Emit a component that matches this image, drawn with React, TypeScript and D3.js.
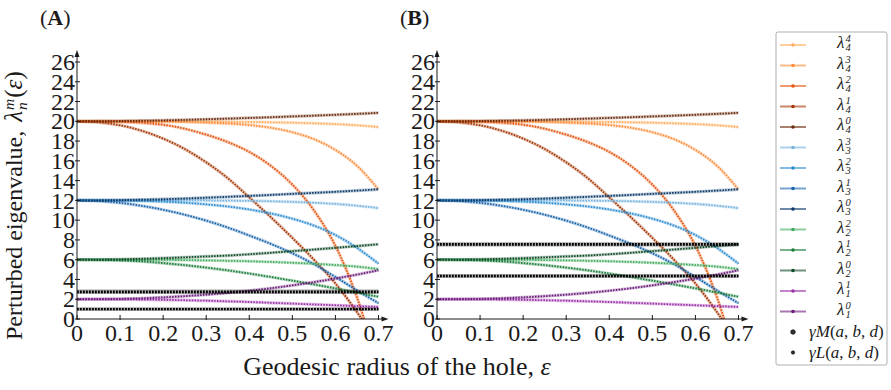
import React, { useEffect, useRef } from 'react';
import * as d3 from 'd3';

// hole radius samples
const EPS = [0, 0.05, 0.1, 0.15, 0.2, 0.25, 0.3, 0.35, 0.4, 0.45, 0.5, 0.55, 0.6, 0.65, 0.7];

// perturbed eigenvalues lambda_n^m(eps)
const LAM_4_4 = [20, 20, 20, 20, 19.99, 19.98, 19.97, 19.95, 19.93, 19.9, 19.86, 19.8, 19.72, 19.6, 19.42];
const LAM_4_3 = [20, 20, 20, 19.99, 19.97, 19.93, 19.87, 19.77, 19.62, 19.35, 18.9, 18.2, 17.1, 15.5, 13.1];
const LAM_4_2 = [20, 20, 19.95, 19.85, 19.65, 19.25, 18.65, 17.9, 16.9, 15.5, 13.6, 11.0, 7.4, 2.2, -5];
const LAM_4_1 = [20, 19.9, 19.6, 19.05, 18.25, 17.2, 15.85, 14.25, 12.3, 10.3, 8.2, 6.0, 3.6, 0.7, -2.6];
const LAM_4_0 = [20, 20.01, 20.03, 20.06, 20.1, 20.15, 20.21, 20.27, 20.34, 20.41, 20.49, 20.57, 20.66, 20.75, 20.86];
const LAM_3_3 = [12, 12, 12, 12, 12, 12, 11.99, 11.97, 11.95, 11.91, 11.85, 11.76, 11.64, 11.46, 11.22];
const LAM_3_2 = [12, 12, 11.98, 11.94, 11.87, 11.76, 11.6, 11.38, 11.08, 10.68, 10.15, 9.45, 8.5, 7.2, 5.6];
const LAM_3_1 = [12, 11.93, 11.75, 11.45, 11.05, 10.55, 9.95, 9.25, 8.45, 7.6, 6.65, 5.55, 4.25, 2.9, 1.6];
const LAM_3_0 = [12, 12.01, 12.03, 12.07, 12.12, 12.19, 12.27, 12.36, 12.45, 12.55, 12.66, 12.76, 12.87, 12.99, 13.12];
const LAM_2_2 = [6, 6, 6, 5.99, 5.98, 5.96, 5.93, 5.89, 5.84, 5.77, 5.69, 5.59, 5.46, 5.3, 5.05];
const LAM_2_1 = [6, 5.98, 5.92, 5.82, 5.66, 5.45, 5.2, 4.92, 4.6, 4.25, 3.88, 3.5, 3.1, 2.68, 2.25];
const LAM_2_0 = [6, 6.01, 6.04, 6.09, 6.16, 6.24, 6.33, 6.42, 6.55, 6.7, 6.86, 7.03, 7.2, 7.38, 7.56];
const LAM_1_1 = [2, 2, 1.99, 1.97, 1.94, 1.9, 1.85, 1.79, 1.72, 1.64, 1.56, 1.47, 1.39, 1.3, 1.22];
const LAM_1_0 = [2, 2.01, 2.04, 2.1, 2.19, 2.31, 2.46, 2.64, 2.86, 3.11, 3.4, 3.73, 4.09, 4.49, 4.93];

// constant levels, one per panel (A, B)
const GAMMA_M = [2.75, 7.55];
const GAMMA_L = [1.0, 4.35];

const PANELS = ['A', 'B'];
const Y_TICKS = [0, 2, 4, 6, 8, 10, 12, 14, 16, 18, 20, 22, 24, 26];
const X_TICKS = [0, 0.1, 0.2, 0.3, 0.4, 0.5, 0.6, 0.7];

const SERIES = [
  { n: 4, m: 4, values: LAM_4_4 },
  { n: 4, m: 3, values: LAM_4_3 },
  { n: 4, m: 2, values: LAM_4_2 },
  { n: 4, m: 1, values: LAM_4_1 },
  { n: 4, m: 0, values: LAM_4_0 },
  { n: 3, m: 3, values: LAM_3_3 },
  { n: 3, m: 2, values: LAM_3_2 },
  { n: 3, m: 1, values: LAM_3_1 },
  { n: 3, m: 0, values: LAM_3_0 },
  { n: 2, m: 2, values: LAM_2_2 },
  { n: 2, m: 1, values: LAM_2_1 },
  { n: 2, m: 0, values: LAM_2_0 },
  { n: 1, m: 1, values: LAM_1_1 },
  { n: 1, m: 0, values: LAM_1_0 },
];

const COLORS = [
  '#fdad5c', '#fd8d3c', '#e6550d', '#a63603', '#6b2a0e',
  '#74b3de', '#2b8cd0', '#1764ab', '#0b3a6b',
  '#41ab5d', '#1b7f3b', '#0d4a25',
  '#9b2fa8', '#6a1b7a',
];

const FONT = '"Liberation Serif", "Times New Roman", serif';
const INK = '#1a1a1a';

function txt(g, size) {
  return g.append('text').attr('font-family', FONT).style('font-size', size + 'px').attr('fill', INK);
}

// base letter with stacked sup/sub (and optional "(ε)"), drawn from x=0; returns width
function mathText(g, base, sup, sub, tail, size) {
  const t1 = txt(g, size).attr('x', 0).attr('y', 0).style('font-style', 'italic').text(base);
  const w1 = (t1.node() as SVGTextElement).getComputedTextLength();
  const small = size * 0.62;
  const tSup = txt(g, small).attr('x', w1 + 1).attr('y', -size * 0.34).style('font-style', 'italic').text(sup);
  const tSub = txt(g, small).attr('x', w1 + 1).attr('y', size * 0.2).style('font-style', 'italic').text(sub);
  const w2 = Math.max(
    (tSup.node() as SVGTextElement).getComputedTextLength(),
    (tSub.node() as SVGTextElement).getComputedTextLength()
  );
  let w = w1 + 1 + w2;
  if (tail) {
    const t3 = txt(g, size).attr('x', w + 1).attr('y', 0);
    t3.append('tspan').text('(');
    t3.append('tspan').style('font-style', 'italic').text('ε');
    t3.append('tspan').text(')');
    w += 1 + (t3.node() as SVGTextElement).getComputedTextLength();
  }
  return w;
}

const App = () => {
  const svgRef = useRef<SVGSVGElement>(null);

  useEffect(() => {
    if (!svgRef.current) return;
    const svg = d3.select(svgRef.current);
    svg.selectAll('*').remove();

    PANELS.forEach((label, p) => {
      const x0 = p === 0 ? 77 : 437;
      const x = d3.scaleLinear().domain([0, 0.7]).range([x0, x0 + 301.5]);
      const y = d3.scaleLinear().domain([0, 26]).range([319, 62]);
      const g = svg.append('g');

      const clipId = 'clip' + label;
      svg.append('clipPath').attr('id', clipId)
        .append('rect').attr('x', x0 - 3).attr('y', 40).attr('width', 310).attr('height', 319 - 40);

      const line = d3.line<number>()
        .x((d, i) => x(EPS[i]))
        .y(d => y(d))
        .curve(d3.curveMonotoneX);

      const curves = g.append('g').attr('clip-path', `url(#${clipId})`);
      SERIES.forEach((s, i) => {
        curves.append('path').attr('d', line(s.values))
          .attr('fill', 'none').attr('stroke', COLORS[i])
          .attr('stroke-width', 3.2).attr('stroke-opacity', 0.3);
        curves.append('path').attr('d', line(s.values))
          .attr('fill', 'none').attr('stroke', COLORS[i])
          .attr('stroke-width', 1.8).attr('stroke-dasharray', '1.5 1.3');
      });

      // gamma levels
      [GAMMA_M[p], GAMMA_L[p]].forEach((lev, k) => {
        const [e0, e1] = d3.extent(EPS) as [number, number];
        curves.append('line')
          .attr('x1', x(e0)).attr('x2', x(e1)).attr('y1', y(lev)).attr('y2', y(lev))
          .attr('stroke', '#000').attr('stroke-opacity', 0.35).attr('stroke-width', k === 0 ? 4.4 : 3.8);
        curves.append('line')
          .attr('x1', x(e0)).attr('x2', x(e1)).attr('y1', y(lev)).attr('y2', y(lev))
          .attr('stroke', '#000').attr('stroke-width', k === 0 ? 2.8 : 2.4)
          .attr('stroke-dasharray', '1.8 1.2');
      });

      // axes with arrow heads
      const yTop = 50;
      const xEnd = x(0.7) + 10;
      g.append('line').attr('x1', x0).attr('x2', x0).attr('y1', 319).attr('y2', yTop + 4)
        .attr('stroke', INK).attr('stroke-width', 1);
      g.append('path').attr('d', `M${x0},${yTop} L${x0 - 2.5},${yTop + 7} L${x0 + 2.5},${yTop + 7} Z`).attr('fill', INK);
      g.append('line').attr('x1', x0).attr('x2', xEnd - 4).attr('y1', 319).attr('y2', 319)
        .attr('stroke', INK).attr('stroke-width', 1);
      g.append('path').attr('d', `M${xEnd},319 L${xEnd - 7},316.5 L${xEnd - 7},321.5 Z`).attr('fill', INK);

      Y_TICKS.forEach(t => {
        g.append('line').attr('x1', x0 - 2).attr('x2', x0 + 3).attr('y1', y(t)).attr('y2', y(t))
          .attr('stroke', INK).attr('stroke-width', 1);
        txt(g, 24).attr('x', x0 - 2).attr('y', y(t)).attr('dy', '0.34em')
          .attr('text-anchor', 'end').text(d3.format('d')(t));
      });
      X_TICKS.forEach(t => {
        g.append('line').attr('x1', x(t)).attr('x2', x(t)).attr('y1', 315).attr('y2', 320)
          .attr('stroke', INK).attr('stroke-width', 1);
        txt(g, 24).attr('x', x(t)).attr('y', 341)
          .attr('text-anchor', 'middle').text(t === 0 ? '0' : d3.format('.1f')(t));
      });

      // panel tag
      const tag = txt(svg, 22).attr('x', x0 - 37).attr('y', 25);
      tag.append('tspan').text('(');
      tag.append('tspan').style('font-weight', 'bold').text(label);
      tag.append('tspan').text(')');
    });

    // y title, reading upward from the bottom
    const yt = svg.append('g').attr('transform', 'translate(22,340) rotate(-90)');
    const t0 = txt(yt, 24).text('Perturbed eigenvalue,');
    const w0 = (t0.node() as SVGTextElement).getComputedTextLength();
    const lam = yt.append('g').attr('transform', `translate(${w0 + 9},0)`);
    mathText(lam, 'λ', 'm', 'n', true, 25);

    // x title
    const xt = txt(svg, 26).attr('x', 397).attr('y', 375).attr('text-anchor', 'middle');
    xt.append('tspan').text('Geodesic radius of the hole, ');
    xt.append('tspan').style('font-style', 'italic').text('ε');

    // legend
    const lg = svg.append('g');
    lg.append('rect').attr('x', 776).attr('y', 32).attr('width', 111).attr('height', 333)
      .attr('rx', 2).attr('fill', '#fff').attr('stroke', '#b0b0b0').attr('stroke-width', 1);
    SERIES.forEach((s, i) => {
      const ly = 45 + i * 20.5;
      lg.append('line').attr('x1', 780).attr('x2', 806).attr('y1', ly).attr('y2', ly)
        .attr('stroke', COLORS[i]).attr('stroke-opacity', 0.6).attr('stroke-width', 2);
      lg.append('circle').attr('cx', 793).attr('cy', ly).attr('r', 1.8).attr('fill', COLORS[i]);
      const lt = lg.append('g').attr('transform', `translate(837,${ly + 3})`);
      mathText(lt, 'λ', String(s.m), String(s.n), false, 17);
    });
    const gammaRows = [
      { name: 'M', r: 2.3 },
      { name: 'L', r: 1.7 },
    ];
    gammaRows.forEach((row, k) => {
      const ly = 45 + (SERIES.length + k) * 20.5;
      lg.append('circle').attr('cx', 793).attr('cy', ly).attr('r', row.r)
        .attr('fill', '#333').attr('stroke', '#000').attr('stroke-width', 0.6);
      const t = txt(lg, 17).attr('x', 809).attr('y', ly + 5);
      t.append('tspan').style('font-style', 'italic').text('γ' + row.name);
      t.append('tspan').text('(');
      t.append('tspan').style('font-style', 'italic').text('a');
      t.append('tspan').text(', ');
      t.append('tspan').style('font-style', 'italic').text('b');
      t.append('tspan').text(', ');
      t.append('tspan').style('font-style', 'italic').text('d');
      t.append('tspan').text(')');
    });
  }, []);

  return (
    <div style={{ position: 'absolute', left: 0, top: 0, width: 891, height: 390, background: '#fff' }}>
      <svg ref={svgRef} width={891} height={390} style={{ display: 'block' }} />
    </div>
  );
};

export default App;
